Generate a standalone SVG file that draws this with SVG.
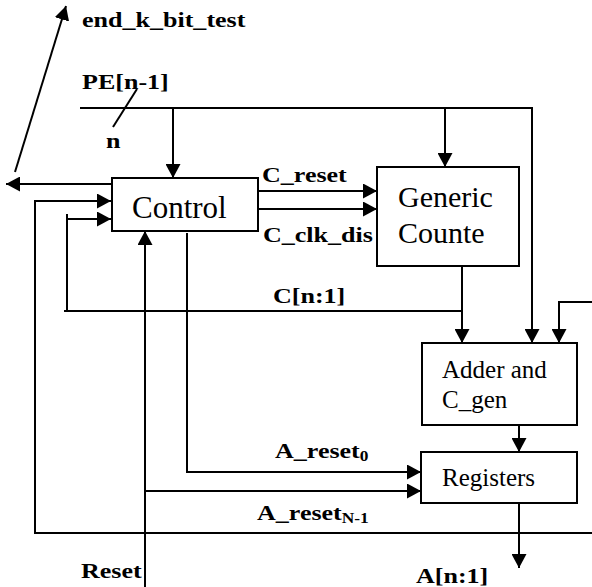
<svg xmlns="http://www.w3.org/2000/svg" width="592" height="587" viewBox="0 0 592 587">
<style>
.w{fill:#fff;stroke:#000;stroke-width:2}
.c{fill:none;stroke:#000;stroke-width:2}
.a{marker-end:url(#ah)}
.t{font-family:"Liberation Serif","Times New Roman",serif;fill:#000}
.b{font-family:"Liberation Serif","Times New Roman",serif;font-weight:bold;font-size:21px;fill:#000}
</style>
<defs>
<marker id="ah" viewBox="0 0 14 15" markerWidth="14" markerHeight="15" refX="14" refY="7.5" orient="auto" markerUnits="userSpaceOnUse">
<path d="M0,0 L14,7.5 L0,15 z" fill="#000"/>
</marker>
</defs>
<rect width="592" height="587" fill="#fff"/>
<g id="connectors">
<line class="c a" x1="15" y1="172" x2="66" y2="6"/>
<line class="c a" x1="111" y1="184" x2="6" y2="184"/>
<path class="c a" d="M80,108 H532 V343"/>
<line class="c a" x1="173" y1="108" x2="173" y2="178"/>
<line class="c a" x1="445" y1="108" x2="445" y2="167"/>
<line class="c" x1="137" y1="89" x2="113" y2="127"/>
<path class="c a" d="M592,533 H35 V201 H111"/>
<line class="c a" x1="462" y1="266" x2="462" y2="343"/>
<path class="c" d="M462,311 H64"/>
<path class="c a" d="M67,311 V214 M67,219 H111"/>
<line class="c a" x1="258" y1="191" x2="377" y2="191"/>
<line class="c a" x1="258" y1="209" x2="377" y2="209"/>
<line class="c a" x1="145" y1="587" x2="145" y2="231"/>
<path class="c a" d="M187,233 V472 H421"/>
<line class="c a" x1="145" y1="491" x2="421" y2="491"/>
<line class="c a" x1="519" y1="425" x2="519" y2="452"/>
<line class="c a" x1="519" y1="503" x2="519" y2="568"/>
<path class="c a" d="M592,302 H559 V343"/>
</g>
<g id="labels">
<text class="b" transform="translate(82,27) scale(1.24,1)">end_k_bit_test</text>
<text class="b" transform="translate(82,89) scale(1.24,1)">PE[n-1]</text>
<text class="b" transform="translate(106,148) scale(1.24,1)">n</text>
<text class="b" transform="translate(262,182) scale(1.24,1)">C_reset</text>
<text class="b" transform="translate(263,242) scale(1.24,1)">C_clk_dis</text>
<text class="b" transform="translate(273,303) scale(1.24,1)">C[n:1]</text>
<text class="b" transform="translate(275,458) scale(1.24,1)">A_reset<tspan font-size="14" dy="3">0</tspan></text>
<text class="b" transform="translate(257,520) scale(1.24,1)">A_reset<tspan font-size="14" dy="3">N-1</tspan></text>
<text class="b" transform="translate(81,578) scale(1.24,1)">Reset</text>
<text class="b" transform="translate(416,583) scale(1.24,1)">A[n:1]</text>
</g>
<g id="control">
<rect class="w" x="112" y="178" width="146" height="53"/>
<text class="t" x="132" y="218" font-size="31">Control</text>
</g>
<g id="generic-counter">
<rect class="w" x="377" y="167" width="142" height="99"/>
<text class="t" x="398" y="207" font-size="30">Generic</text>
<text class="t" x="398" y="243" font-size="30">Counte</text>
</g>
<g id="adder">
<rect class="w" x="422" y="343" width="155" height="82"/>
<text class="t" x="442" y="378" font-size="25">Adder and</text>
<text class="t" x="442" y="408" font-size="25">C_gen</text>
</g>
<g id="registers">
<rect class="w" x="421" y="452" width="156" height="51"/>
<text class="t" x="442" y="486" font-size="25">Registers</text>
</g>
</svg>
